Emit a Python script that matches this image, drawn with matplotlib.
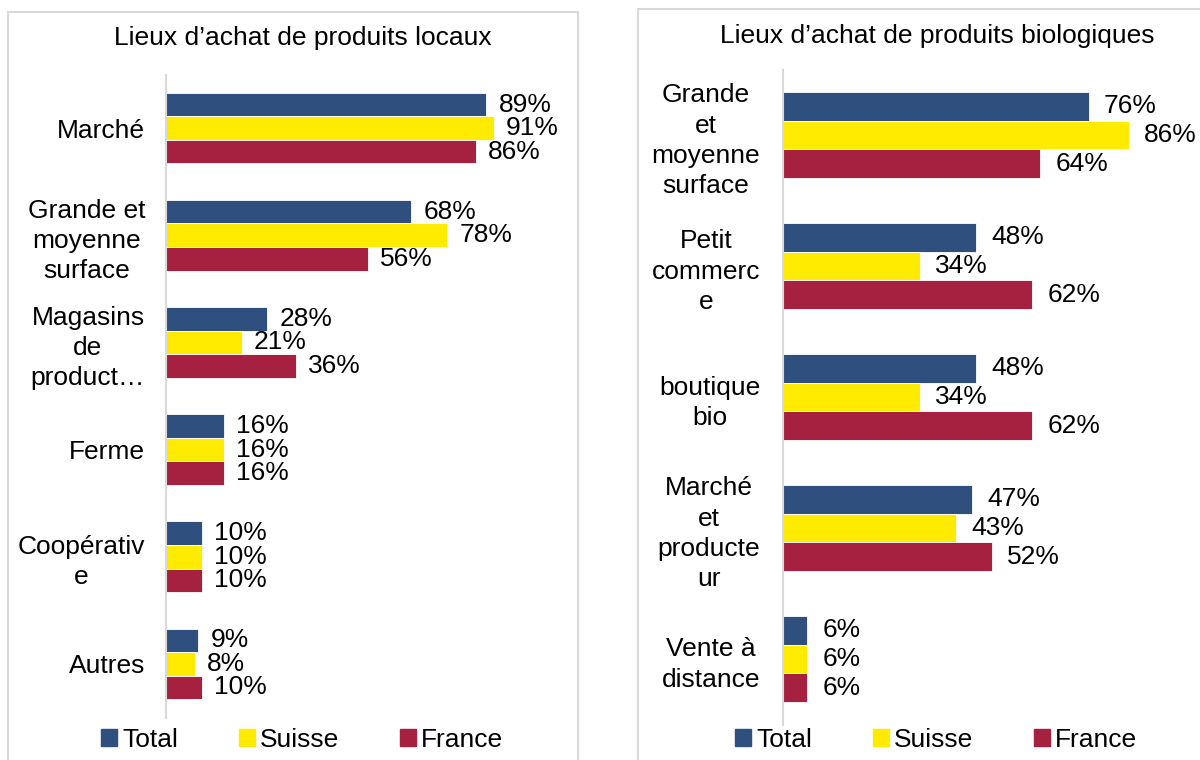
import matplotlib
matplotlib.use("Agg")
import matplotlib.pyplot as plt
from matplotlib.patches import Rectangle, Patch

plt.rcParams['font.family'] = ['Liberation Sans', 'DejaVu Sans']

# données
series = ["Total", "Suisse", "France"]
couleurs = ["#2F4F7E", "#FFEB00", "#A62140"]

titre_locaux = "Lieux d’achat de produits locaux"
cat_locaux = ["Marché", "Grande et\nmoyenne\nsurface", "Magasins\nde\nproduct…",
              "Ferme", "Coopérativ\ne", "Autres"]
total_locaux = [89, 68, 28, 16, 10, 9]
suisse_locaux = [91, 78, 21, 16, 10, 8]
france_locaux = [86, 56, 36, 16, 10, 10]

titre_bio = "Lieux d’achat de produits biologiques"
cat_bio = ["Grande\net\nmoyenne\nsurface", "Petit\ncommerc\ne", "boutique\nbio",
           "Marché\net\nproducte\nur", "Vente à\ndistance"]
total_bio = [76, 48, 48, 47, 6]
suisse_bio = [86, 34, 34, 43, 6]
france_bio = [64, 62, 62, 52, 6]

W, H = 1200, 760
FS = 19
GRIS = "#D9D9D9"

fig = plt.figure(figsize=(12, 7.6), dpi=100)


def px(x0, y0, x1, y1):
    # pixels (haut-gauche) -> fraction de figure
    return [x0 / W, 1 - y1 / H, (x1 - x0) / W, (y1 - y0) / H]


def panneau(rect, cats, valeurs, titre, titre_xy, leg_xy, pad_lbl, pad_tick, colsp):
    ax = fig.add_axes(px(*rect))
    n = len(cats)
    h = 0.22
    for k, (vals, c) in enumerate(zip(valeurs, couleurs)):
        ys = [i + (k - 1) * h for i in range(n)]
        bars = ax.barh(ys, vals, height=h, color=c, edgecolor="white", linewidth=0.6)
        for b, v in zip(bars, vals):
            ax.annotate(f"{v}%", (b.get_width(), b.get_y() + h / 2),
                        xytext=(pad_lbl, 0), textcoords="offset points",
                        ha="left", va="center", fontsize=FS)
    ax.set_xlim(0, 100)
    ax.set_ylim(n - 0.5, -0.5)
    ax.set_yticks(range(n))
    ax.set_yticklabels(cats, fontsize=FS, multialignment="center", linespacing=1.32)
    ax.tick_params(axis="y", length=0, pad=pad_tick)
    ax.set_xticks([])
    for s in ["top", "right", "bottom"]:
        ax.spines[s].set_visible(False)
    ax.spines["left"].set_color(GRIS)
    ax.spines["left"].set_linewidth(1.5)
    fig.text(titre_xy[0] / W, 1 - titre_xy[1] / H, titre, ha="center", va="center",
             fontsize=FS)
    handles = [Patch(color=c, label=s) for s, c in zip(series, couleurs)]
    fig.legend(handles=handles, loc="center", ncol=3, frameon=False, fontsize=FS,
               bbox_to_anchor=(leg_xy[0] / W, 1 - leg_xy[1] / H),
               handlelength=0.6, handleheight=0.6, handletextpad=0.2,
               columnspacing=colsp, borderaxespad=0)
    return ax


# cadres des deux graphiques
fig.add_artist(Rectangle((8 / W, -0.05), 570 / W, 1.05 - 12 / H, transform=fig.transFigure,
                         fill=False, edgecolor=GRIS, linewidth=1.5))
fig.add_artist(Rectangle((638 / W, -0.05), 0.5, 1.05 - 9 / H, transform=fig.transFigure,
                         fill=False, edgecolor=GRIS, linewidth=1.5))

panneau((166, 74.5, 526, 717.5), cat_locaux, [total_locaux, suisse_locaux, france_locaux],
        titre_locaux, (303, 38), (302, 740), 9, 15, 2.3)
panneau((783, 69.5, 1185, 724.5), cat_bio, [total_bio, suisse_bio, france_bio],
        titre_bio, (937, 36), (936, 740), 11, 16.5, 2.3)

fig.savefig("out.png", dpi=100)
